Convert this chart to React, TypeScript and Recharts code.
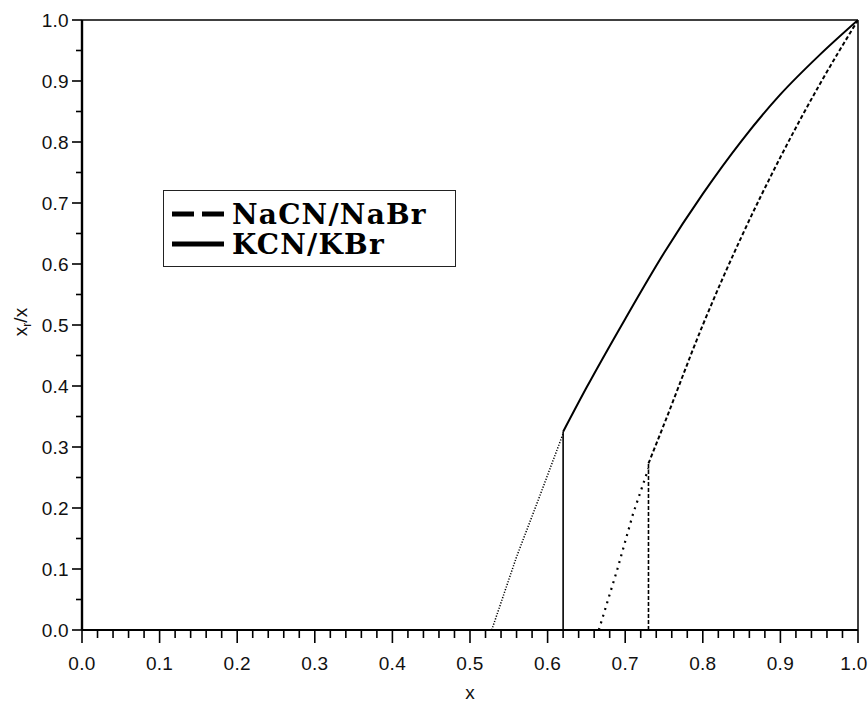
import {
  Legend,
  Line,
  LineChart,
  ReferenceLine,
  XAxis,
  YAxis,
} from "recharts";

// KCN/KBr: solid branch, its vertical edge and the dotted metastable part
const kcnCurve = [
  { x: 0.62, y: 0.325 },
  { x: 0.65, y: 0.397 },
  { x: 0.7, y: 0.51 },
  { x: 0.75, y: 0.618 },
  { x: 0.8, y: 0.715 },
  { x: 0.85, y: 0.802 },
  { x: 0.9, y: 0.878 },
  { x: 0.95, y: 0.942 },
  { x: 1.0, y: 1.0 },
];
const kcnEdge = [
  { x: 0.62, y: 0 },
  { x: 0.62, y: 0.325 },
];
const kcnDotted = [
  { x: 0.528, y: 0 },
  { x: 0.56, y: 0.12 },
  { x: 0.59, y: 0.22 },
  { x: 0.62, y: 0.322 },
];

// NaCN/NaBr
const nacnCurve = [
  { x: 0.73, y: 0.273 },
  { x: 0.75, y: 0.337 },
  { x: 0.8, y: 0.5 },
  { x: 0.85, y: 0.645 },
  { x: 0.9, y: 0.775 },
  { x: 0.95, y: 0.893 },
  { x: 1.0, y: 1.0 },
];
const nacnEdge = [
  { x: 0.73, y: 0 },
  { x: 0.73, y: 0.273 },
];
const nacnDotted = [
  { x: 0.666, y: 0 },
  { x: 0.69, y: 0.1 },
  { x: 0.71, y: 0.19 },
  { x: 0.73, y: 0.265 },
];

const xMajor = [0, 0.1, 0.2, 0.3, 0.4, 0.5, 0.6, 0.7, 0.8, 0.9, 1.0];
const yMajor = [0, 0.1, 0.2, 0.3, 0.4, 0.5, 0.6, 0.7, 0.8, 0.9, 1.0];
// minor ticks: every 0.02 on x, every 0.05 on y
const xTicks = Array.from({ length: 51 }, (_, i) => i / 50);
const yTicks = Array.from({ length: 21 }, (_, i) => i / 20);

const legendItems = ["NaCN/NaBr", "KCN/KBr"];

const labelFont = "'Liberation Sans', Arial, sans-serif";

function isMajor(v: number, majors: number[]) {
  return majors.some((m) => Math.abs(m - v) < 1e-6);
}

function XTick(props: any) {
  const { x, y, payload } = props;
  const major = isMajor(payload.value, xMajor);
  // last label sits at the right edge, nudge it in
  const shift = payload.value > 0.99 ? -4 : 0;
  return (
    <g>
      <line x1={x} x2={x} y1={y} y2={y + (major ? 13 : 8)} stroke="#000" strokeWidth={1.6} />
      {major && (
        <text
          x={x + shift}
          y={y + 40}
          textAnchor="middle"
          fontSize={19}
          fontFamily={labelFont}
          letterSpacing={0.3}
          fill="#111"
        >
          {payload.value.toFixed(1)}
        </text>
      )}
    </g>
  );
}

function YTick(props: any) {
  const { x, y, payload } = props;
  const major = isMajor(payload.value, yMajor);
  return (
    <g>
      <line x1={x - (major ? 10 : 6)} x2={x} y1={y} y2={y} stroke="#000" strokeWidth={1.6} />
      {major && (
        <text
          x={x - 13}
          y={y + 7}
          textAnchor="end"
          fontSize={19}
          fontFamily={labelFont}
          letterSpacing={0.3}
          fill="#111"
        >
          {payload.value.toFixed(1)}
        </text>
      )}
    </g>
  );
}

function YTitle() {
  return (
    <text
      x={27}
      y={322}
      transform="rotate(-90 27 322)"
      textAnchor="middle"
      fontSize={19}
      fontFamily={labelFont}
      fill="#111"
    >
      x
      <tspan fontSize={12} dy={4}>
        r
      </tspan>
      <tspan dy={-4}>/x</tspan>
    </text>
  );
}

function LegendBox() {
  return (
    <div
      style={{
        border: "1.5px solid #222",
        background: "#fff",
        padding: "8px 8px 0 8px",
        fontFamily: "'DejaVu Serif', serif",
        fontWeight: "bold",
        fontSize: 28,
        lineHeight: "31px",
        color: "#000",
        boxSizing: "border-box",
        width: 293,
        height: 77,
      }}
    >
      {legendItems.map((name, i) => (
        <div key={name} style={{ display: "flex", alignItems: "center", height: 30 }}>
          <svg width={60} height={30} style={{ flexShrink: 0 }}>
            <line
              x1={0}
              x2={52}
              y1={15}
              y2={15}
              stroke="#000"
              strokeWidth={5}
              strokeDasharray={i === 0 ? "22 8" : undefined}
            />
          </svg>
          <span style={{ letterSpacing: 1.2, whiteSpace: "nowrap" }}>{name}</span>
        </div>
      ))}
    </div>
  );
}

export default function App() {
  return (
    <div style={{ position: "absolute", left: 0, top: 0, background: "#fff" }}>
      <LineChart
        width={868}
        height={706}
        margin={{ top: 20, right: 10, bottom: 0, left: 0 }}
      >
        <XAxis
          type="number"
          dataKey="x"
          domain={[0, 1]}
          ticks={xTicks}
          interval={0}
          tickLine={false}
          tickSize={0}
          tickMargin={0}
          tick={<XTick />}
          axisLine={{ stroke: "#000", strokeWidth: 2 }}
          height={76}
          allowDataOverflow
          label={{
            value: "x",
            position: "insideBottom",
            offset: 7,
            fontSize: 19,
            fontFamily: labelFont,
            fill: "#111",
          }}
        />
        <YAxis
          type="number"
          domain={[0, 1]}
          ticks={yTicks}
          interval={0}
          tickLine={false}
          tickSize={0}
          tickMargin={0}
          tick={<YTick />}
          axisLine={{ stroke: "#000", strokeWidth: 2.4 }}
          width={82}
          allowDataOverflow
          label={{ content: () => <YTitle /> }}
        />
        <ReferenceLine y={1} stroke="#000" strokeWidth={1.5} />
        <ReferenceLine x={1} stroke="#000" strokeWidth={1.5} />

        <Line data={kcnDotted} dataKey="y" type="linear" stroke="#000" strokeWidth={1.5} strokeDasharray="1.2 1.6" dot={false} activeDot={false} isAnimationActive={false} legendType="none" />
        <Line data={kcnEdge} dataKey="y" type="linear" stroke="#000" strokeWidth={1.6} dot={false} activeDot={false} isAnimationActive={false} legendType="none" />
        <Line data={kcnCurve} dataKey="y" type="monotone" stroke="#000" strokeWidth={2} dot={false} activeDot={false} isAnimationActive={false} legendType="none" />

        <Line data={nacnDotted} dataKey="y" type="linear" stroke="#000" strokeWidth={2.2} strokeDasharray="2 5" dot={false} activeDot={false} isAnimationActive={false} legendType="none" />
        <Line data={nacnEdge} dataKey="y" type="linear" stroke="#000" strokeWidth={1.6} strokeDasharray="4 2" dot={false} activeDot={false} isAnimationActive={false} legendType="none" />
        <Line data={nacnCurve} dataKey="y" type="monotone" stroke="#000" strokeWidth={2} strokeDasharray="4 2.5" dot={false} activeDot={false} isAnimationActive={false} legendType="none" />

        <Legend
          layout="horizontal"
          verticalAlign="middle"
          align="center"
          content={() => <LegendBox />}
          wrapperStyle={{ left: 163, top: 190, width: 293, height: 77 }}
        />
      </LineChart>
    </div>
  );
}
